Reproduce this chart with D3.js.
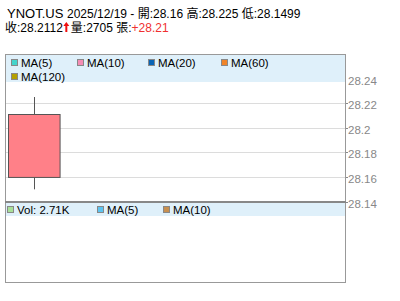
<!DOCTYPE html>
<html>
<head>
<meta charset="utf-8">
<script src="https://cdn.jsdelivr.net/npm/d3@7"></script>
<style>
  body { margin: 0; background: #fff; }
  svg text { font-family: Arial, "Liberation Sans", "Noto Sans CJK TC", sans-serif; }
</style>
</head>
<body>
<svg width="400" height="301"></svg>
<script>
// data
var symbol = "YNOT.US";
var dates = ["2025/12/19"];
var opens = [28.16];
var highs = [28.225];
var lows = [28.1499];
var closes = [28.2112];
var volumes = [2705];
var change = "+28.21";
var yTicks = [28.14, 28.16, 28.18, 28.2, 28.22, 28.24];
var maLegend = ["MA(5)", "MA(10)", "MA(20)", "MA(60)", "MA(120)"];
var maColors = ["#44d4cc", "#f48cb4", "#0a64b4", "#f08428", "#b4a000"];
var volLegend = ["Vol: 2.71K", "MA(5)", "MA(10)"];
var volColors = ["#a8e098", "#5cc4f0", "#c89050"];

var svg = d3.select("svg");

// layout
var left = 5, right = 345, plotTop = 54, mainBottom = 201.5, volBottom = 282;

var x = d3.scaleBand().domain(dates).range([left, left + 57]).padding(0.05);
var y = d3.scaleLinear().domain([28.14, 28.26]).range([mainBottom, plotTop]);

// grid lines
svg.append("g")
  .selectAll("line")
  .data(yTicks)
  .join("line")
  .attr("x1", left).attr("x2", right)
  .attr("y1", d => Math.round(y(d)) + 0.5)
  .attr("y2", d => Math.round(y(d)) + 0.5)
  .attr("stroke", "#dcdcdc");

// candles
var candle = svg.append("g")
  .selectAll("g")
  .data(dates)
  .join("g");

candle.append("line")
  .attr("x1", d => Math.round(x(d) + x.bandwidth() / 2) + 0.5)
  .attr("x2", d => Math.round(x(d) + x.bandwidth() / 2) + 0.5)
  .attr("y1", (d, i) => y(highs[i]))
  .attr("y2", (d, i) => y(lows[i]))
  .attr("stroke", "#555");

candle.append("rect")
  .attr("x", d => Math.round(x(d)) + 0.5)
  .attr("width", x.bandwidth())
  .attr("y", (d, i) => Math.round(y(Math.max(opens[i], closes[i]))) + 0.5)
  .attr("height", (d, i) => Math.abs(y(opens[i]) - y(closes[i])))
  .attr("fill", (d, i) => closes[i] >= opens[i] ? "#ff8088" : "#70c070")
  .attr("stroke", "#555");

// legend band, main
svg.append("rect")
  .attr("x", left + 1).attr("y", plotTop + 1)
  .attr("width", right - left - 1).attr("height", 27)
  .attr("fill", "#dff0fa");

var legPos = [[11, 0], [77, 0], [148, 0], [221, 0], [11, 1]];
var leg = svg.append("g")
  .selectAll("g")
  .data(maLegend)
  .join("g")
  .attr("transform", (d, i) => "translate(" + legPos[i][0] + "," + (59 + legPos[i][1] * 14) + ")");
leg.append("rect")
  .attr("x", 0.5).attr("y", 0.5).attr("width", 6).attr("height", 6)
  .attr("fill", (d, i) => maColors[i]).attr("stroke", "#888");
leg.append("text")
  .attr("x", 10).attr("y", 7.5)
  .attr("font-size", 11.5)
  .attr("fill", "#000")
  .text(d => d);

// y axis on the right
var yAxis = svg.append("g");
yAxis.selectAll("line")
  .data(yTicks.filter(d => y(d) > plotTop + 28))
  .join("line")
  .attr("x1", right).attr("x2", right + 3)
  .attr("y1", d => Math.round(y(d)) + 0.5)
  .attr("y2", d => Math.round(y(d)) + 0.5)
  .attr("stroke", "#888");
yAxis.selectAll("text")
  .data(yTicks)
  .join("text")
  .attr("x", right + 3)
  .attr("y", d => y(d) + 6)
  .attr("font-size", 11.5)
  .attr("fill", "#888")
  .text(d => d3.format("")(d));

// frames
svg.append("rect")
  .attr("x", left + 0.5).attr("y", plotTop + 0.5)
  .attr("width", right - left).attr("height", volBottom - plotTop)
  .attr("fill", "none").attr("stroke", "#999");
svg.append("line")
  .attr("x1", left).attr("x2", right + 1)
  .attr("y1", mainBottom + 0.5).attr("y2", mainBottom + 0.5)
  .attr("stroke", "#888").attr("stroke-width", 2);

// volume legend
svg.append("rect")
  .attr("x", left + 1).attr("y", 203)
  .attr("width", right - left - 1).attr("height", 13)
  .attr("fill", "#dff0fa");
var volPos = [7, 97, 163];
var vleg = svg.append("g")
  .selectAll("g")
  .data(volLegend)
  .join("g")
  .attr("transform", (d, i) => "translate(" + volPos[i] + ",206)");
vleg.append("rect")
  .attr("x", 0.5).attr("y", 0.5).attr("width", 6).attr("height", 6)
  .attr("fill", (d, i) => volColors[i]).attr("stroke", "#888");
vleg.append("text")
  .attr("x", 10).attr("y", 7.5)
  .attr("font-size", 11.5)
  .text(d => d);

// header
var h1 = svg.append("text").attr("x", 7).attr("y", 18).attr("font-size", 12);
h1.append("tspan").attr("font-size", 13).text(symbol + " ");
h1.append("tspan").text(dates[0] + " - 開:" + opens[0] + " 高:" + highs[0] + " 低:" + lows[0]);

var h2a = svg.append("text").attr("x", 5).attr("y", 32).attr("font-size", 12)
  .text("收:" + closes[0]);
var ax = 5 + h2a.node().getComputedTextLength() + 1;

// red up arrow
svg.append("path")
  .attr("d", "M" + (ax + 2.5) + ",22 L" + (ax + 5.5) + ",26 L" + (ax + 3.5) + ",26 L" + (ax + 3.5) + ",32 L" + (ax + 1.5) + ",32 L" + (ax + 1.5) + ",26 L" + (ax - 0.5) + ",26 Z")
  .attr("fill", "#f01010");

var h2 = svg.append("text").attr("x", ax + 7).attr("y", 32).attr("font-size", 12);
h2.append("tspan").text("量:" + volumes[0] + " 張:");
h2.append("tspan").attr("fill", "#f03030").text(change);
</script>
</body>
</html>
